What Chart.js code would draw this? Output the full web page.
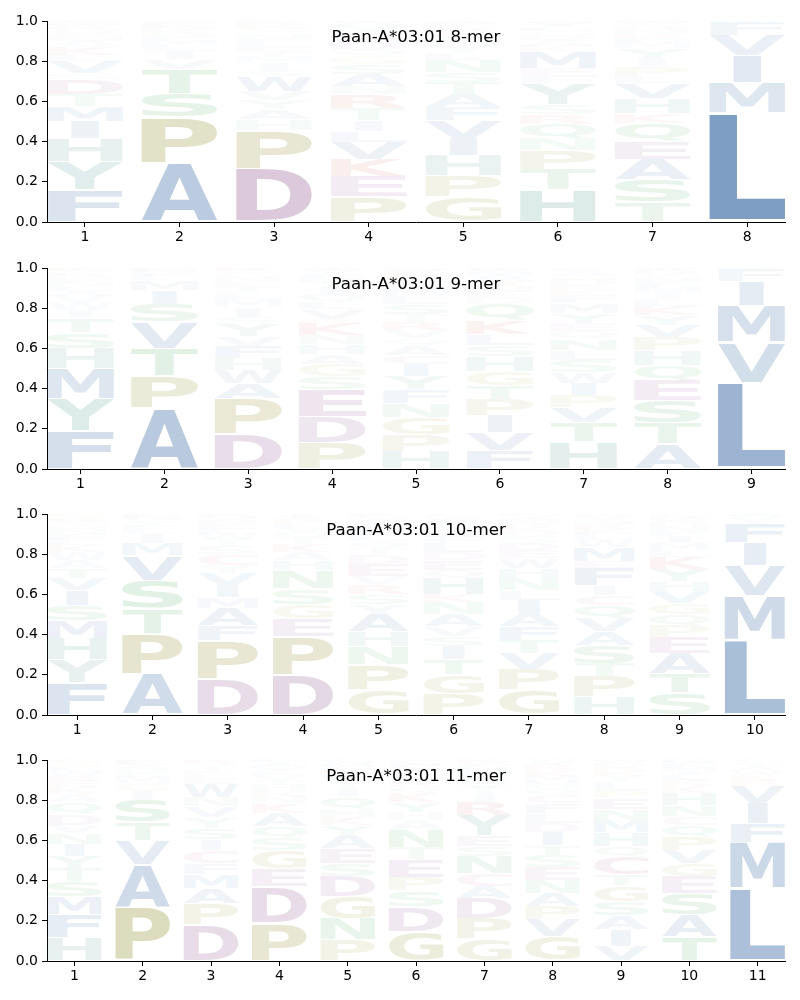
<!DOCTYPE html>
<html><head><meta charset="utf-8">
<script src="https://cdn.jsdelivr.net/npm/chart.js@4.4.1/dist/chart.umd.min.js"></script>
<style>
html,body{margin:0;padding:0;background:#fff;width:800px;height:1000px;overflow:hidden}
.panel{position:absolute;left:0;width:800px;height:246px}
canvas{display:block}
</style></head><body>
<div class="panel" style="top:0px"><canvas id="c8" width="800" height="246"></canvas></div>
<div class="panel" style="top:247px"><canvas id="c9" width="800" height="246"></canvas></div>
<div class="panel" style="top:493px"><canvas id="c10" width="800" height="246"></canvas></div>
<div class="panel" style="top:739px"><canvas id="c11" width="800" height="246"></canvas></div>
<script>
// ---------- data ----------
const yTicks = [0, 0.2, 0.4, 0.6, 0.8, 1.0];

const mer8Title = 'Paan-A*03:01 8-mer';
const mer8Positions = [1, 2, 3, 4, 5, 6, 7, 8];
const mer8Letters = [
  'FYHIMTDSVLKANEQRWGC',
  'APSTVILMFQKNREGH',
  'DPHAYVWSIMTELFNGQKRC',
  'PEKVLITRNASGQDMFYHWC',
  'GPHIVFATSNLYMQKREDWC',
  'HTPNQRSYFEMKADGLIVWC',
  'TSAEQKHVLPIYMFRNDGWC',
  'LMIVFW'
];
const mer8Heights = [
  [.16,.14,.115,.085,.075,.06,.075,.03,.06,.03,.04,.03,.02,.02,.015,.015,.01,.01,.01],
  [.294,.226,.12,.12,.05,.04,.03,.025,.02,.015,.015,.01,.01,.01,.01,.005],
  [.265,.19,.055,.05,.045,.045,.075,.025,.04,.03,.025,.025,.02,.02,.02,.02,.015,.015,.01,.01],
  [.125,.10,.085,.085,.055,.055,.06,.07,.04,.06,.05,.04,.03,.04,.025,.02,.03,.015,.01,.005],
  [.125,.105,.10,.085,.09,.065,.065,.06,.05,.06,.035,.04,.03,.02,.02,.015,.015,.01,.005,.005],
  [.16,.10,.095,.06,.07,.05,.05,.10,.04,.04,.08,.03,.03,.025,.02,.02,.01,.01,.005,.005],
  [.10,.11,.10,.09,.09,.05,.075,.075,.035,.05,.04,.05,.03,.02,.02,.02,.015,.015,.01,.005],
  [.545,.15,.135,.10,.065,.005]
];

const mer9Title = 'Paan-A*03:01 9-mer';
const mer9Positions = [1, 2, 3, 4, 5, 6, 7, 8, 9];
const mer9Letters = [
  'FYMHSTIWVALNEDRQGK',
  'APTVSIMLFQNKE',
  'DPAWHFVYSIMLTENGQKR',
  'PDESGAHNKRVLQITMFYWC',
  'HPGNFYICAQVRTSLMEDKW',
  'FVIPTGHSLKQDENRAMWC',
  'HTVPIWSLNQEYMFKRDGAC',
  'ATSEQHPVYKLIMFNGDW',
  'LVMIFY'
];
const mer9Heights = [
  [.19,.16,.15,.10,.08,.07,.04,.04,.03,.025,.025,.02,.015,.015,.01,.01,.01,.01],
  [.305,.16,.135,.13,.09,.07,.05,.015,.01,.01,.01,.01,.005],
  [.175,.175,.075,.065,.06,.06,.05,.06,.035,.05,.04,.03,.03,.025,.025,.02,.01,.01,.005],
  [.13,.13,.135,.065,.06,.05,.05,.045,.06,.02,.05,.035,.04,.03,.03,.02,.02,.015,.01,.005],
  [.09,.08,.085,.07,.07,.065,.06,.045,.05,.035,.04,.04,.04,.05,.04,.04,.03,.025,.03,.015],
  [.09,.09,.085,.08,.07,.07,.075,.055,.055,.07,.08,.03,.03,.025,.03,.03,.015,.01,.01],
  [.135,.095,.075,.06,.06,.055,.06,.05,.055,.04,.04,.05,.05,.04,.025,.02,.03,.02,.025,.015],
  [.125,.105,.11,.10,.075,.075,.065,.06,.05,.045,.035,.03,.03,.025,.02,.02,.02,.01],
  [.43,.20,.185,.12,.06,.005]
];

const mer10Title = 'Paan-A*03:01 10-mer';
const mer10Positions = [1, 2, 3, 4, 5, 6, 7, 8, 9, 10];
const mer10Letters = [
  'FYHMSIVTAWKLENDQRGP',
  'APTSVMILFYQNKE',
  'DPFAMIVYCSTWLENQK',
  'DPEGSNHAKTQVLRYI',
  'GPNHAYSRVEDTQLFMIWCK',
  'PGTISVANKHQEDLFRMYWC',
  'GPVTFAILNHWEDSQKRMYC',
  'HPTSAVQCIFEMWLKRNYDG',
  'STAEPQGVHYKLMIFNDWRC',
  'LMVIFYWA'
];
const mer10Heights = [
  [.16,.115,.105,.09,.075,.075,.06,.05,.04,.04,.035,.03,.025,.025,.02,.02,.015,.01,.01],
  [.205,.20,.125,.14,.125,.06,.045,.025,.02,.015,.01,.01,.01,.01],
  [.18,.19,.075,.085,.055,.06,.06,.04,.055,.04,.03,.03,.025,.025,.02,.02,.01],
  [.20,.19,.09,.07,.08,.09,.05,.04,.04,.03,.03,.025,.02,.02,.01,.015],
  [.125,.125,.09,.075,.085,.05,.05,.05,.04,.06,.045,.035,.035,.03,.025,.025,.02,.015,.01,.01],
  [.105,.095,.075,.065,.05,.05,.06,.06,.04,.08,.04,.05,.04,.045,.03,.03,.025,.025,.02,.015],
  [.125,.10,.08,.065,.07,.065,.065,.05,.06,.05,.05,.04,.035,.035,.025,.02,.02,.02,.015,.01],
  [.09,.10,.065,.09,.07,.065,.065,.05,.05,.085,.035,.07,.035,.03,.025,.02,.02,.015,.01,.01],
  [.11,.095,.10,.08,.06,.055,.055,.06,.05,.06,.06,.035,.035,.035,.025,.025,.02,.015,.015,.01],
  [.375,.22,.15,.115,.095,.025,.01,.01]
];

const mer11Title = 'Paan-A*03:01 11-mer';
const mer11Positions = [1, 2, 3, 4, 5, 6, 7, 8, 9, 10, 11];
const mer11Letters = [
  'HFMSTYINVDQAKERWLGPC',
  'PAVTSIGMFQNYKEL',
  'DPAMFCISYVNWELKTQRG',
  'PDEGSQAKNRHTVLYMIF',
  'PNGDSEAYKHQITVLRFMWC',
  'GDSPETNAHYKQRVLIMFWC',
  'GPDACNSEYRITVQLMHFWK',
  'GVPANESTIDLFCQHMKRYW',
  'VIASGTCQHMNEPLYKRDWF',
  'TASEGVPQCNHKRLIMFWD',
  'LMFIVRKWATQC'
];
const mer11Heights = [
  [.115,.115,.09,.075,.065,.06,.06,.055,.04,.055,.06,.04,.035,.03,.025,.025,.02,.015,.01,.01],
  [.27,.21,.12,.09,.11,.045,.04,.03,.02,.015,.015,.01,.01,.01,.005],
  [.18,.105,.075,.07,.055,.065,.055,.055,.055,.055,.045,.065,.025,.025,.02,.02,.015,.01,.005],
  [.19,.18,.09,.09,.06,.06,.065,.05,.03,.03,.03,.025,.025,.02,.015,.015,.015,.01],
  [.105,.105,.11,.10,.065,.075,.065,.05,.04,.04,.06,.04,.03,.025,.02,.02,.015,.015,.01,.01],
  [.145,.125,.08,.065,.09,.06,.09,.045,.04,.05,.045,.03,.025,.02,.02,.015,.015,.01,.01,.02],
  [.11,.10,.10,.06,.065,.085,.05,.055,.10,.065,.04,.03,.025,.025,.02,.02,.015,.015,.01,.01],
  [.12,.085,.065,.065,.065,.065,.06,.05,.065,.045,.05,.05,.04,.035,.03,.03,.025,.03,.015,.01],
  [.075,.08,.07,.07,.08,.055,.09,.05,.07,.06,.055,.055,.04,.04,.03,.025,.02,.02,.01,.005],
  [.12,.11,.105,.085,.065,.065,.065,.06,.045,.055,.06,.035,.03,.025,.02,.02,.015,.01,.01],
  [.36,.23,.095,.10,.085,.03,.025,.02,.02,.015,.01,.01]
];

// ---------- styles ----------
const residueColors = {
  A:[70,115,170], V:[70,115,170], L:[70,115,170], I:[70,115,170], M:[70,115,170], F:[70,115,170], W:[70,115,170],
  H:[75,148,140], Y:[75,148,140],
  D:[146,91,146], E:[146,91,146],
  K:[200,70,70], R:[200,70,70],
  P:[150,150,60], G:[150,150,60],
  S:[70,165,95], T:[70,165,95], N:[70,165,95], Q:[70,165,95],
  C:[170,100,150]
};
function glyphColor(ch, h) {
  const c = residueColors[ch] || [120,120,120];
  const a = Math.min(1, Math.max(0.02, 1.3 * h - 0.02));
  return `rgba(${c[0]},${c[1]},${c[2]},${a.toFixed(3)})`;
}

const GLYPH_FONT = 'bold 200px "DejaVu Sans"';
const VPAD = 0.05;
function drawGlyph(ctx, ch, left, top, w, h, color) {
  ctx.save();
  ctx.font = GLYPH_FONT;
  ctx.textAlign = 'left';
  ctx.textBaseline = 'alphabetic';
  const m = ctx.measureText(ch);
  const e = ctx.measureText('E');
  const gw = m.actualBoundingBoxLeft + m.actualBoundingBoxRight;
  const gh = m.actualBoundingBoxAscent + m.actualBoundingBoxDescent;
  const ew = e.actualBoundingBoxLeft + e.actualBoundingBoxRight;
  const sx = w / Math.max(gw, ew);
  const hh = h * (1 - VPAD);
  const sy = hh / gh;
  const x0 = left + (w - gw * sx) / 2;
  const y0 = top + h * VPAD / 2;
  ctx.translate(x0, y0);
  ctx.scale(sx, sy);
  ctx.fillStyle = color;
  ctx.fillText(ch, m.actualBoundingBoxLeft, m.actualBoundingBoxAscent);
  ctx.restore();
}

const logoPlugin = {
  id: 'logoGlyphs',
  afterDatasetsDraw(chart) {
    const ctx = chart.ctx;
    chart.data.datasets.forEach((ds, di) => {
      const meta = chart.getDatasetMeta(di);
      meta.data.forEach((bar, i) => {
        const ch = ds.glyphs[i];
        const v = ds.data[i].y;
        if (!ch || !(v > 0)) return;
        const p = bar.getProps(['x', 'y', 'base', 'width'], true);
        const top = Math.min(p.y, p.base);
        const hgt = Math.abs(p.base - p.y);
        if (hgt < 0.3) return;
        drawGlyph(ctx, ch, p.x - p.width / 2, top, p.width, hgt, glyphColor(ch, v));
      });
    });
  }
};

const titlePlugin = {
  id: 'innerTitle',
  afterDraw(chart) {
    const ctx = chart.ctx;
    const a = chart.chartArea;
    ctx.save();
    ctx.font = '16.67px "DejaVu Sans"';
    ctx.fillStyle = '#000';
    ctx.textAlign = 'center';
    ctx.textBaseline = 'alphabetic';
    ctx.fillText(chart.options.plugins.innerTitle.text, (a.left + a.right) / 2, a.top + 21);
    ctx.restore();
  }
};

function makeLogo(canvasId, title, positions, letters, heights) {
  const depth = Math.max(...letters.map(s => s.length));
  const datasets = [];
  for (let k = 0; k < depth; k++) {
    datasets.push({
      data: positions.map((p, i) => ({ x: p, y: heights[i][k] || 0 })),
      glyphs: positions.map((p, i) => letters[i][k] || ''),
      backgroundColor: 'rgba(0,0,0,0)',
      borderWidth: 0,
      categoryPercentage: 1,
      barPercentage: 0.8
    });
  }
  const tickFont = { family: 'DejaVu Sans', size: 14 };
  const gridOpts = { display: true, offset: false, drawOnChartArea: false, drawTicks: true, tickLength: 5, tickColor: '#000', tickWidth: 1 };
  const borderOpts = { display: true, color: '#000', width: 1 };
  new Chart(document.getElementById(canvasId), {
    type: 'bar',
    data: { datasets },
    options: {
      responsive: false,
      animation: false,
      devicePixelRatio: 1,
      layout: { padding: { top: 21, right: 15, bottom: 0, left: 0 } },
      plugins: { legend: { display: false }, tooltip: { enabled: false }, title: { display: false }, innerTitle: { text: title } },
      scales: {
        x: {
          type: 'linear',
          min: positions[0] - 0.4,
          max: positions[positions.length - 1] + 0.4,
          stacked: true,
          offset: false,
          afterBuildTicks: ax => { ax.ticks = positions.map(v => ({ value: v })); },
          afterFit: ax => { ax.height = 24; },
          ticks: { font: tickFont, color: '#000', padding: 2, maxRotation: 0, autoSkip: false, callback: v => String(v) },
          grid: gridOpts,
          border: borderOpts
        },
        y: {
          type: 'linear',
          min: 0,
          max: 1,
          stacked: true,
          afterBuildTicks: ax => { ax.ticks = yTicks.map(v => ({ value: v })); },
          afterFit: ax => { ax.width = 47; },
          ticks: { font: tickFont, color: '#000', padding: 4, callback: v => Number(v).toFixed(1) },
          grid: gridOpts,
          border: borderOpts
        }
      }
    },
    plugins: [logoPlugin, titlePlugin]
  });
}

makeLogo('c8', mer8Title, mer8Positions, mer8Letters, mer8Heights);
makeLogo('c9', mer9Title, mer9Positions, mer9Letters, mer9Heights);
makeLogo('c10', mer10Title, mer10Positions, mer10Letters, mer10Heights);
makeLogo('c11', mer11Title, mer11Positions, mer11Letters, mer11Heights);
</script>
</body></html>
